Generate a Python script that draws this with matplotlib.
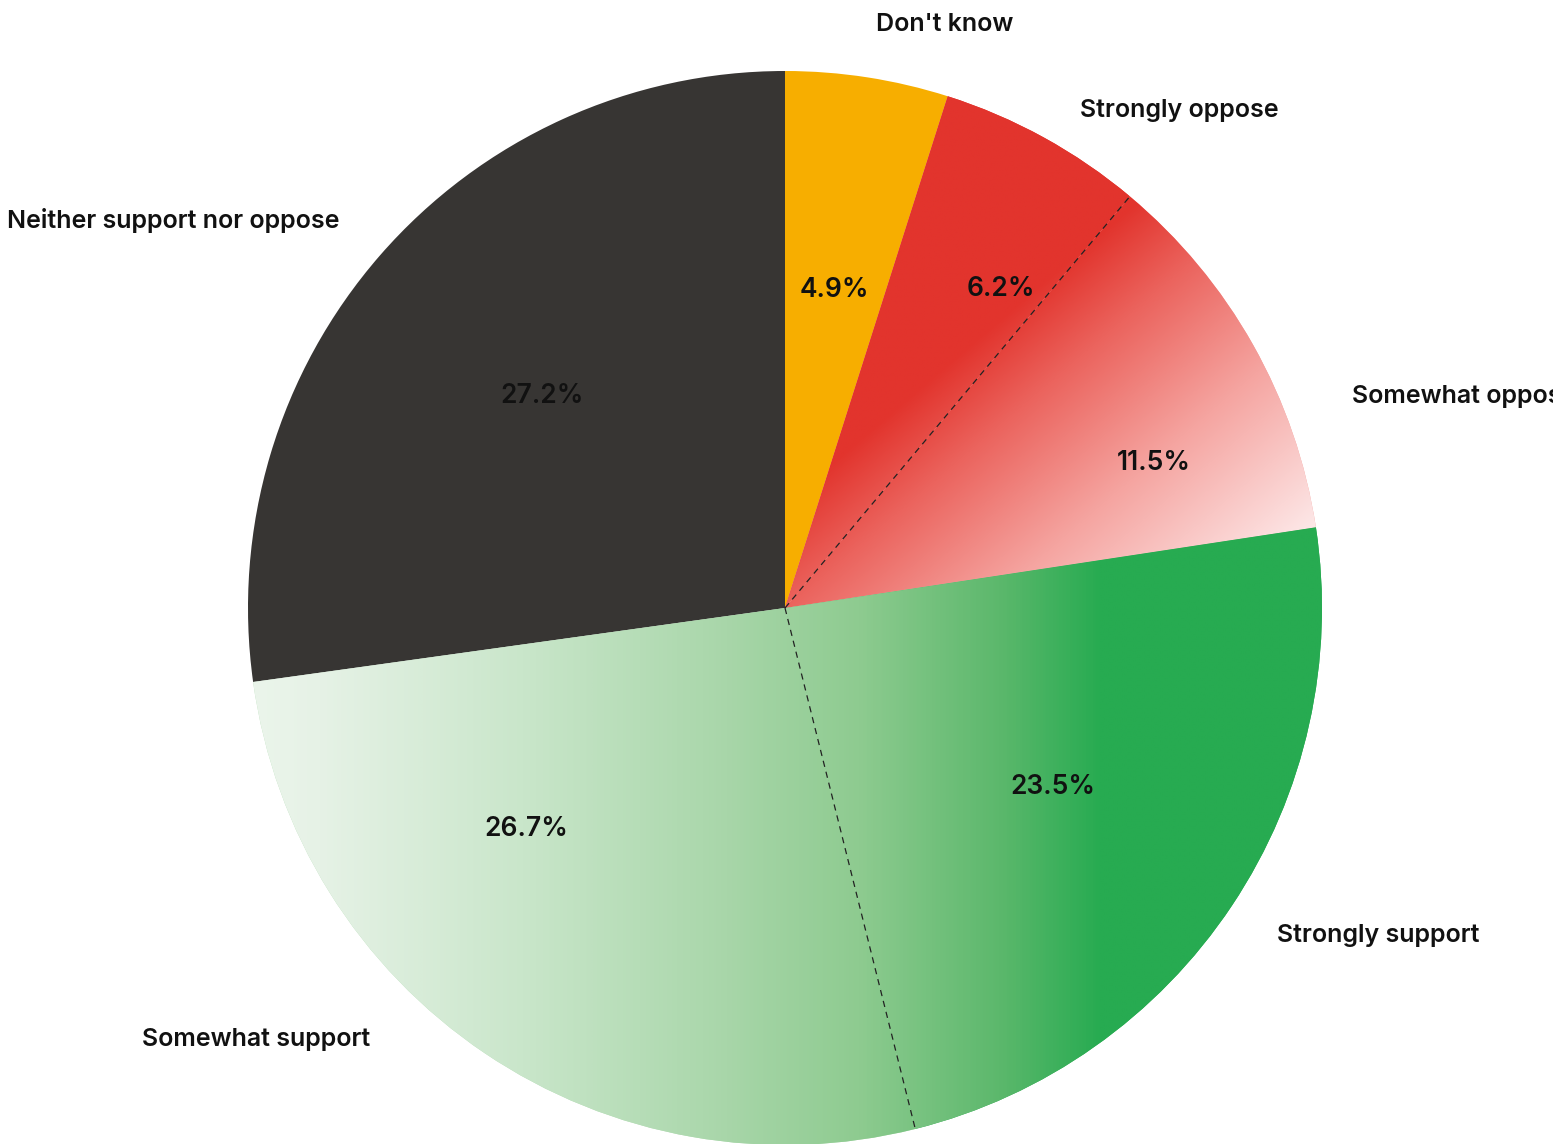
import numpy as np
import matplotlib
matplotlib.use('Agg')
import matplotlib.pyplot as plt
from matplotlib.colors import LinearSegmentedColormap

labels = ["Don't know", 'Strongly oppose', 'Somewhat oppose',
          'Strongly support', 'Somewhat support', 'Neither support nor oppose']
shares = [4.9, 6.2, 11.5, 23.5, 26.7, 27.2]
colors = ['#F7AE00', '#E2342D', '#F4A09C', '#27AB51', '#B5DDB6', '#373533']

# gradient stops (position, colour)
oppose_stops = [(0, '#E2342D'), (0.22, '#EB635D'), (0.57, '#F5A4A0'), (1, '#FDE8E8')]
support_stops = [(0, '#EBF5EB'), (0.08, '#E6F2E6'), (0.32, '#C9E6CA'), (0.56, '#A8D6A9'),
                 (0.715, '#8ECB90'), (0.88, '#5CB86C'), (1, '#27AB51')]

plt.rcParams['font.family'] = ['Inter', 'DejaVu Sans']

fig = plt.figure(figsize=(15.53, 11.44), dpi=100)
ax = fig.add_axes([0, 0, 1, 1])
wedges, texts, autotexts = ax.pie(
    shares, labels=labels, colors=colors, autopct='%1.1f%%',
    startangle=90, counterclock=False, wedgeprops={'linewidth': 0},
    textprops={'fontsize': 18, 'fontweight': 'semibold', 'color': '#111111'})
for t in autotexts:
    t.set_fontsize(19)

# hand-placed labels (layout only), in axes data units
texts[1].set_position((0.549, 0.927))
texts[2].set_position((1.056, 0.393))
texts[4].set_position((-0.773, -0.804))
autotexts[1].set_position((0.402, 0.594))
autotexts[2].set_position((0.687, 0.270))
autotexts[4].set_position((-0.482, -0.412))

n = 900
gx, gy = np.meshgrid(np.linspace(-1.02, 1.02, n), np.linspace(-1.02, 1.02, n))
ext = (-1.02, 1.02, -1.02, 1.02)

# diagonal gradient for the oppose slices
red_cmap = LinearSegmentedColormap.from_list('opp', oppose_stops)
p = 0.65 * gx - 0.76 * gy
red_t = np.clip((p + 0.149) / (0.529 + 0.149), 0, 1)
# horizontal gradient for the support slices
green_cmap = LinearSegmentedColormap.from_list('sup', support_stops)
green_t = np.clip((gx + 0.996) / (0.592 + 0.996), 0, 1)

for i, (cmap, t) in {1: (red_cmap, red_t), 2: (red_cmap, red_t),
                     3: (green_cmap, green_t), 4: (green_cmap, green_t)}.items():
    im = ax.imshow(cmap(t), extent=ext, origin='lower', interpolation='bilinear', zorder=1.5)
    im.set_clip_path(wedges[i])

# dashed separators inside each group
cum = np.cumsum(shares)
for k in [1, 3]:
    ang = np.deg2rad(90 - 360 * cum[k] / 100)
    ax.plot([0, np.cos(ang)], [0, np.sin(ang)], ls=(0, (5, 4)), lw=0.9,
            color='#222222', zorder=2)

ax.set_aspect('auto')
ax.set_xlim(-785 / 537, (1553 - 785) / 537)
ax.set_ylim(-(1144 - 608) / 537, 608 / 537)
ax.axis('off')

fig.savefig('out.png', dpi=100)
